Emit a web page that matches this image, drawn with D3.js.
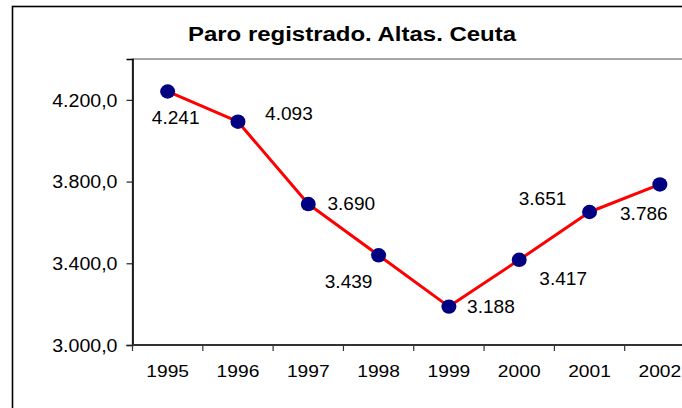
<!DOCTYPE html>
<html><head><meta charset="utf-8">
<script src="https://cdn.jsdelivr.net/npm/d3@7"></script>
<style>
html,body{margin:0;padding:0;background:#fff;}
svg{display:block;}
text{font-family:"Liberation Sans",Arial,sans-serif;fill:#000;}
</style></head>
<body>
<svg id="chart" width="682" height="408"></svg>
<script>
const title = "Paro registrado. Altas. Ceuta";
const years = ["1995","1996","1997","1998","1999","2000","2001","2002"];
const values = [4241, 4093, 3690, 3439, 3188, 3417, 3651, 3786];
const yTicks = [3000, 3400, 3800, 4200];
const yDomain = [3000, 4400];
// label placement relative to each point (dx, dy)
const labelOffsets = [[8,26],[51,-8],[43,0],[-30,26],[42,0],[44,19],[-47,-13],[-16,29]];

const es = d3.formatLocale({decimal:",", thousands:".", grouping:[3], currency:["","€"]});
const fmtAxis = es.format(",.1f");
const fmtVal = es.format(",.0f");

const svg = d3.select("#chart");
const plot = {left:132.5, top:59, right:695, bottom:345};

// helper: horizontally stretched text, placed at (x,y)
function wideText(sel, sx){
  return sel.attr("transform", function(){
    const tx = +this.getAttribute("data-x"), ty = +this.getAttribute("data-y");
    return `translate(${tx},${ty}) scale(${sx},1)`;
  });
}

// outer frame
svg.append("rect").attr("x",12.5).attr("y",6.5).attr("width",720).attr("height",440)
  .attr("fill","#fff").attr("stroke","#000").attr("stroke-width",1.6);

// title
svg.append("text").attr("transform","translate(352,41) scale(1.23,1)").attr("text-anchor","middle")
  .style("font-weight","bold").style("font-size","19.5px")
  .text(title);

const x = d3.scaleBand().domain(years).range([plot.left, plot.right]);
const y = d3.scaleLinear().domain(yDomain).range([plot.bottom, plot.top]);

// plot area border
svg.append("rect").attr("x",plot.left).attr("y",plot.top)
  .attr("width",plot.right-plot.left).attr("height",plot.bottom-plot.top)
  .attr("fill","none").attr("stroke","#8a8a8a").attr("stroke-width",1.5);

// y axis
const yAxis = d3.axisLeft(y).tickValues(yTicks).tickFormat(fmtAxis).tickSize(6).tickPadding(9);
const gy = svg.append("g").attr("transform",`translate(${plot.left},0)`).call(yAxis);
gy.select(".domain").attr("stroke","#000").attr("stroke-width",1.6);
gy.selectAll(".tick line").attr("stroke","#222").attr("stroke-width",1.2);
gy.selectAll(".tick text").attr("font-family",null).attr("fill","#000")
  .style("font-size","17.5px").attr("dy","0.36em")
  .attr("x",-(6+9)/1.12).attr("transform","scale(1.12,1)");

// x axis: labels centered in bands, ticks at band boundaries
const gx = svg.append("g").attr("transform",`translate(0,${plot.bottom})`);
gx.append("line").attr("x1",plot.left).attr("x2",plot.right).attr("y1",0).attr("y2",0)
  .attr("stroke","#333").attr("stroke-width",2);
gx.selectAll("line.tk").data(years).join("line").attr("class","tk")
  .attr("x1",d=>x(d)).attr("x2",d=>x(d)).attr("y1",0).attr("y2",6)
  .attr("stroke","#333").attr("stroke-width",1.2);
gx.selectAll("text.lbl").data(years).join("text").attr("class","lbl")
  .attr("data-x",d=>x(d)+x.bandwidth()/2).attr("data-y",32).attr("text-anchor","middle")
  .style("font-size","17px").text(d=>d)
  .call(wideText, 1.13);

// line
const pts = years.map((d,i)=>({year:d, v:values[i], off:labelOffsets[i]}));
const cx = d=>x(d.year)+x.bandwidth()/2;
svg.append("path").datum(pts)
  .attr("d", d3.line().x(cx).y(d=>y(d.v)))
  .attr("fill","none").attr("stroke","#ff0000").attr("stroke-width",3).attr("stroke-linejoin","round");

svg.selectAll("ellipse.dot").data(pts).join("ellipse").attr("class","dot")
  .attr("cx",cx).attr("cy",d=>y(d.v)).attr("rx",7.5).attr("ry",7.2).attr("fill","#000080");

svg.selectAll("text.val").data(pts).join("text").attr("class","val")
  .attr("data-x",d=>cx(d)+d.off[0]).attr("data-y",d=>y(d.v)+d.off[1]).attr("dy","0.36em")
  .attr("text-anchor","middle").style("font-size","17.5px")
  .text(d=>fmtVal(d.v))
  .call(wideText, 1.09);
</script>
</body></html>
